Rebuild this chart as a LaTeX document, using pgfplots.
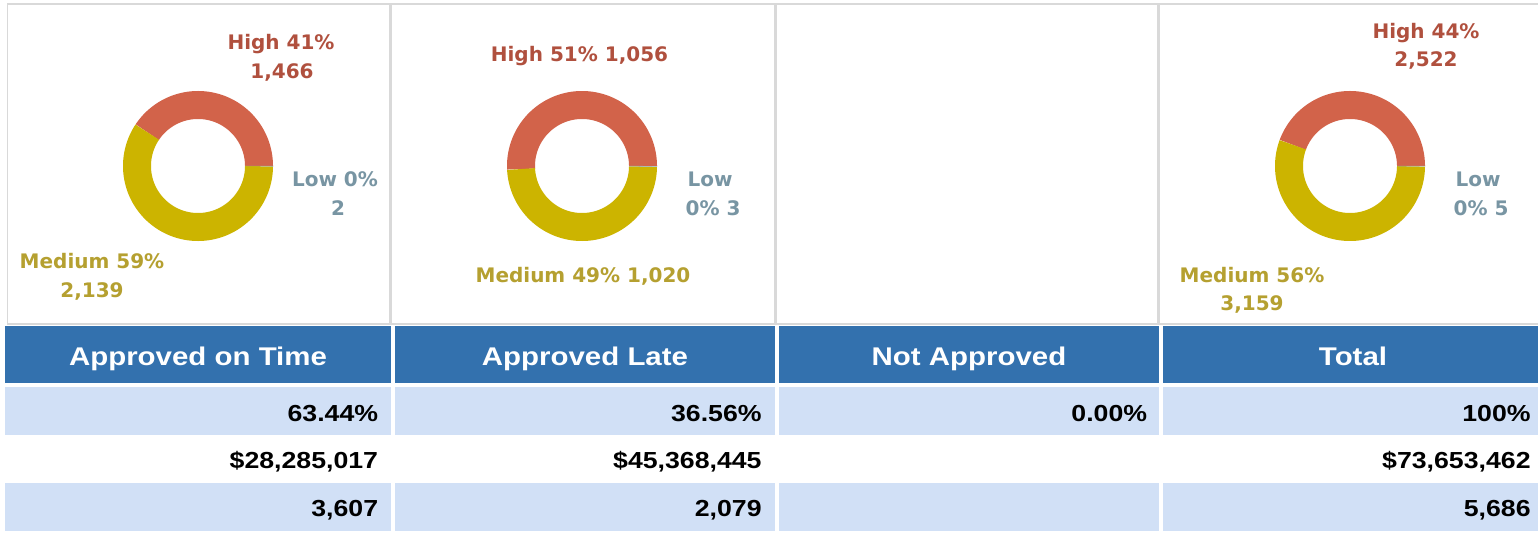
\documentclass[border=0pt]{standalone}
\usepackage{pgfplots}
\pgfplotsset{compat=1.18}
\usepackage{pgfplotstable}
\usepackage{fontspec}
\setmainfont{Liberation Sans}
\newfontfamily\tabfont{Liberation Sans}[FakeStretch=1.15]
\newfontfamily\lblfont{DejaVu Sans}
\definecolor{ringH}{HTML}{D2634A}
\definecolor{ringM}{HTML}{CCB400}
\definecolor{ringL}{HTML}{8FA8B5}
\definecolor{txtH}{HTML}{B0503E}
\definecolor{txtM}{HTML}{B5A030}
\definecolor{txtL}{HTML}{7895A3}
\definecolor{hdr}{HTML}{3371AE}
\definecolor{rowb}{HTML}{D1E0F6}
\definecolor{grid}{HTML}{D9D9D9}

\pgfplotstableread{
level count
High 1466
Medium 2139
Low 2
}\ontime
\pgfplotstableread{
level count
High 1056
Medium 1020
Low 3
}\late
\pgfplotstableread{
level count
High 2522
Medium 3159
Low 5
}\total

\newcommand\donut[3]{%
  \pgfplotstablegetelem{0}{count}\of#1\edef\cH{\pgfplotsretval}%
  \pgfplotstablegetelem{1}{count}\of#1\edef\cM{\pgfplotsretval}%
  \pgfplotstablegetelem{2}{count}\of#1\edef\cL{\pgfplotsretval}%
  \pgfmathsetmacro\tot{\cH+\cM+\cL}%
  \pgfmathsetmacro\aH{360*(\cH/\tot)}%
  \pgfmathsetmacro\aM{\aH+360*(\cM/\tot)}%
  \pgfmathsetmacro\px{0.5*#2}%
  \pgfmathsetmacro\py{-0.5*#3}%
  \begin{axis}[at={(\px pt,\py pt)}, anchor=origin, x=0.5pt, y=0.5pt,
    xmin=-76, xmax=76, ymin=-76, ymax=76, hide axis, clip=false]
    \addplot[draw=ringH, line width=14pt, no marks, domain=0:\aH, samples=120] ({61*cos(x)},{61*sin(x)});
    \addplot[draw=ringM, line width=14pt, no marks, domain=\aH:\aM, samples=120] ({61*cos(x)},{61*sin(x)});
    \addplot[draw=ringL, line width=14pt, no marks, domain=\aM:360, samples=5] ({61*cos(x)},{61*sin(x)});
  \end{axis}%
}

\begin{document}
\begin{tikzpicture}[x=0.5pt, y=-0.5pt]
  \path[use as bounding box, fill=white] (0,0) rectangle (1538,535);
  % panels
  \begin{scope}[draw=grid, line width=0.75pt]
    \draw (7.5,4) rectangle (390,324);
    \draw (391.5,4) rectangle (775,324);
    \draw (776.5,4) rectangle (1157.5,324);
    \draw (1159,4) rectangle (1545,324);
  \end{scope}
  % donuts
  \donut{\ontime}{198}{166}
  \donut{\late}{582}{166}
  \donut{\total}{1350}{166}
  % donut labels
  \begin{scope}[every node/.style={font=\lblfont\bfseries\fontsize{10}{12}\selectfont, inner sep=0pt, anchor=base}]
    \node[text=txtH] at (281,50) {High 41\%};
    \node[text=txtH] at (282,79) {1,466};
    \node[text=txtL] at (335,187) {Low 0\%};
    \node[text=txtL] at (338,215) {2};
    \node[text=txtM] at (92,269) {Medium 59\%};
    \node[text=txtM] at (92,297) {2,139};
    \node[text=txtH] at (579.5,62) {High 51\% 1,056};
    \node[text=txtL] at (710,187) {Low};
    \node[text=txtL] at (713,215) {0\% 3};
    \node[text=txtM] at (583,282) {Medium 49\% 1,020};
    \node[text=txtH] at (1426,39) {High 44\%};
    \node[text=txtH] at (1426,67) {2,522};
    \node[text=txtL] at (1478,187) {Low};
    \node[text=txtL] at (1481,215) {0\% 5};
    \node[text=txtM] at (1252,282) {Medium 56\%};
    \node[text=txtM] at (1252,310) {3,159};
  \end{scope}
  % table
  \fill[hdr] (5,326) rectangle (391,383.3);
  \fill[hdr] (395,326) rectangle (775,383.3);
  \fill[hdr] (779,326) rectangle (1159,383.3);
  \fill[hdr] (1163,326) rectangle (1538,383.3);
  \foreach \ya/\yb in {387.3/435, 482.7/530.7}{
    \fill[rowb] (5,\ya) rectangle (391,\yb);
    \fill[rowb] (395,\ya) rectangle (775,\yb);
    \fill[rowb] (779,\ya) rectangle (1159,\yb);
    \fill[rowb] (1163,\ya) rectangle (1538,\yb);
  }
  \begin{scope}[every node/.style={font=\tabfont\bfseries\fontsize{12.8}{14}\selectfont, text=white, inner sep=0pt, anchor=base}]
    \node at (198,365) {Approved on Time};
    \node at (585,365) {Approved Late};
    \node at (969,365) {Not Approved};
    \node at (1353,365) {Total};
  \end{scope}
  \begin{scope}[every node/.style={font=\tabfont\bfseries\fontsize{11.6}{13}\selectfont, text=black, inner sep=0pt, anchor=base east}]
    \node at (378.5,421.5) {63.44\%};
    \node at (762,421.5) {36.56\%};
    \node at (1147.5,421.5) {0.00\%};
    \node at (1531,421.5) {100\%};
    \node at (378.5,468) {\$28,285,017};
    \node at (762,468) {\$45,368,445};
    \node at (1531,468) {\$73,653,462};
    \node at (378.5,516.5) {3,607};
    \node at (762,516.5) {2,079};
    \node at (1531,516.5) {5,686};
  \end{scope}
\end{tikzpicture}
\end{document}
